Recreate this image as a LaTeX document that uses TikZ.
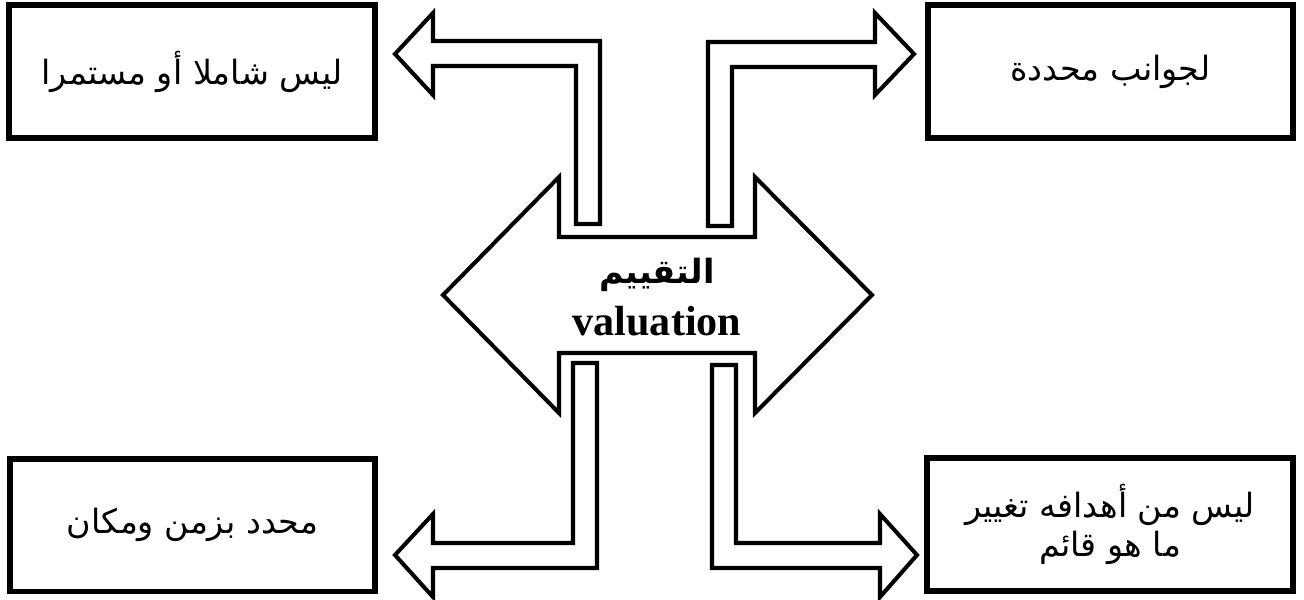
\documentclass[tikz,border=0pt]{standalone}
\usepackage{fontspec}
\setmainfont{Liberation Serif}
\newfontfamily\arabicfont[Script=Arabic]{DejaVu Sans}
\TeXXeTstate=1
\usetikzlibrary{positioning}

\begin{document}
\begin{tikzpicture}[x=0.02cm, y=-0.02cm,
  every node/.style={font=\fontsize{19}{22.5}\selectfont\arabicfont},
  bx/.style={draw, line width=3.4pt, minimum width=7.32cm, minimum height=2.66cm, align=center, inner sep=0pt},
  blk/.style={draw, line width=2.3pt, fill=white, line join=miter},
  ctr/.style={align=center, inner sep=0pt, font=\fontsize{24}{30}\selectfont\bfseries}]
\useasboundingbox (0,0) rectangle (1304,599);
% the four boxes
\node[bx] (sl) at (192,71.5)   {\beginR ليس شاملا أو مستمرا\endR};
\node[bx] (sr) at (1110.5,71.5) {\beginR لجوانب محددة\endR};
\node[bx] (bl) at (192.5,525)  {\beginR محدد بزمن ومكان\endR};
\node[bx] (br) at (1110,524.5) {\beginR ليس من أهدافه تغيير\endR\\\beginR ما هو قائم\endR};
% bent arrows
\draw[blk] (395,54) -- (433,13) -- (433,41) -- (600,41) -- (600,224) -- (576,224)
  -- (576,66) -- (433,66) -- (433,95) -- cycle;
\draw[blk] (914,54) -- (875,13) -- (875,42) -- (708,42) -- (708,226) -- (732,226)
  -- (732,67) -- (875,67) -- (875,95) -- cycle;
\draw[blk] (395,555) -- (433,514) -- (433,543) -- (573,543) -- (573,363) -- (597,363)
  -- (597,568) -- (433,568) -- (433,597) -- cycle;
\draw[blk] (917,555) -- (880,514) -- (880,543) -- (736,543) -- (736,365) -- (712,365)
  -- (712,568) -- (880,568) -- (880,597) -- cycle;
% the double arrow in the middle
\draw[blk] (443,295) -- (559,177) -- (559,237) -- (755,237) -- (755,177) -- (872,295)
  -- (755,413) -- (755,353) -- (559,353) -- (559,413) -- cycle;
\node[ctr] (ev) at (657,297) {{\fontsize{19}{30}\selectfont\arabicfont\beginR التقييم\endR}\\valuation};
\end{tikzpicture}
\end{document}
